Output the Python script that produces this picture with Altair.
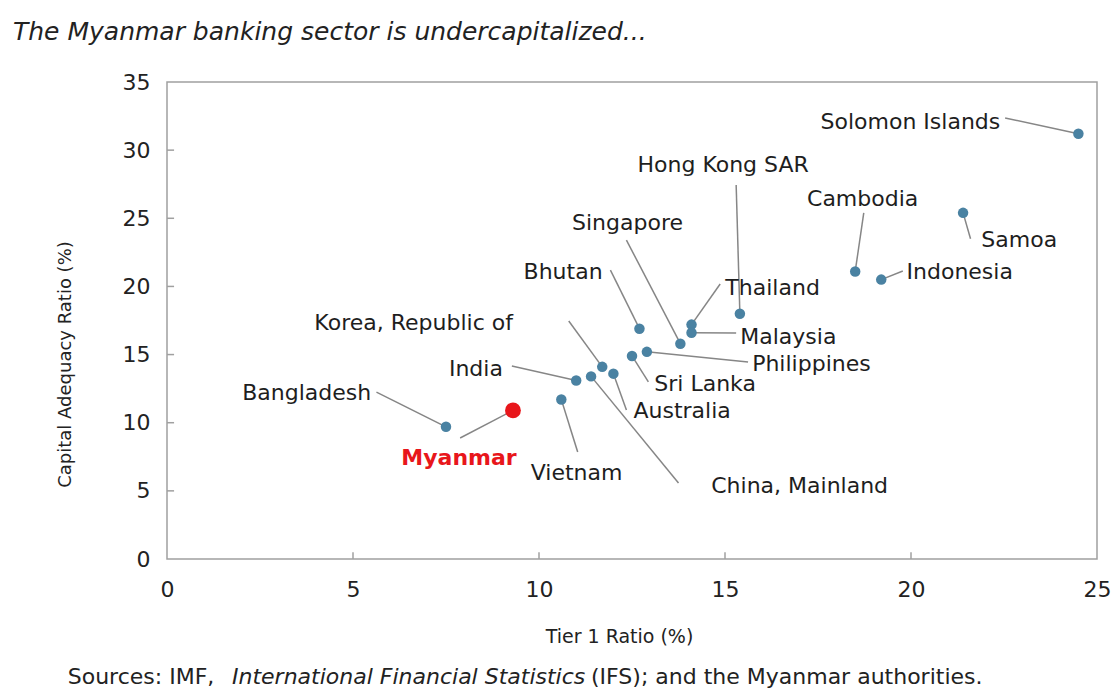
import altair as alt
import pandas as pd

# ---- data ----
countries = ["Solomon Islands", "Samoa", "Cambodia", "Indonesia", "Hong Kong SAR",
             "Thailand", "Malaysia", "Singapore", "Bhutan", "Philippines", "Sri Lanka",
             "Korea, Republic of", "Australia", "China, Mainland", "India", "Vietnam",
             "Myanmar", "Bangladesh"]
tier1 = [24.5, 21.4, 18.5, 19.2, 15.4, 14.1, 14.1, 13.8, 12.7, 12.9, 12.5,
         11.7, 12.0, 11.4, 11.0, 10.6, 9.3, 7.5]
car = [31.2, 25.4, 21.1, 20.5, 18.0, 17.2, 16.6, 15.8, 16.9, 15.2, 14.9,
       14.1, 13.6, 13.4, 13.1, 11.7, 10.9, 9.7]

# ---- annotation layout (data units) ----
label_x = [22.40, 21.89, 18.70, 19.88, 14.95, 15.01, 15.41, 12.38, 11.71, 15.73, 13.10,
           9.30, 12.54, 14.63, 9.03, 11.01, 7.85, 5.49]
label_y = [32.06, 23.40, 26.41, 21.06, 28.91, 19.88, 16.29, 24.65, 21.06, 14.31, 12.84,
           17.31, 10.86, 5.36, 13.94, 6.31, 7.41, 12.18]
label_align = ["right", "left", "center", "left", "center", "left", "left", "center", "right",
               "left", "left", "right", "left", "left", "right", "center", "center", "right"]
line_x = [22.53, 21.60, 18.73, 19.78, 15.30, 14.87, 15.30, 12.35, 11.92, 15.62, 12.94,
          10.80, 12.35, 13.75, 9.27, 11.04, 7.88, 5.63]
line_y = [32.36, 23.50, 25.39, 21.13, 27.44, 20.18, 16.58, 23.40, 21.20, 14.45, 12.99,
          17.46, 10.93, 5.58, 14.16, 7.85, 8.88, 12.25]

x_ticks = [0, 5, 10, 15, 20, 25]
y_ticks = [0, 5, 10, 15, 20, 25, 30, 35]

title_text = "The Myanmar banking sector is undercapitalized..."
source_1 = "Sources: IMF,"
source_2 = "International Financial Statistics"
source_3 = "(IFS); and the Myanmar authorities."

df = pd.DataFrame({
    "country": countries, "tier1": tier1, "car": car,
    "lx": label_x, "ly": label_y, "align": label_align,
    "sx": line_x, "sy": line_y,
})

FONT = "DejaVu Sans"
W, H = 930, 477
FS = 22

xs = alt.Scale(domain=[0, 25], nice=False, zero=False)
ys = alt.Scale(domain=[0, 35], nice=False, zero=False)

base = alt.Chart(df)

xaxis = alt.Axis(values=x_ticks, ticks=False, domain=False, grid=False, labelPadding=20,
                 labelFontSize=FS, labelFont=FONT, labelColor="#222", labelFlush=False,
                 title="Tier 1 Ratio (%)", titleFontSize=19, titleFont=FONT,
                 titleFontWeight="normal", titleColor="#222", titlePadding=27, titleX=452)
yaxis = alt.Axis(values=y_ticks, ticks=False, domain=False, grid=False, labelPadding=17,
                 labelFontSize=FS, labelFont=FONT, labelColor="#222",
                 title="Capital Adequacy Ratio (%)", titleFontSize=18, titleFont=FONT,
                 titleFontWeight="normal", titleColor="#222", titleX=-102, titleY=282,
                 titleBaseline="middle")

leaders = base.mark_rule(color="#868686", strokeWidth=1.5).encode(
    x=alt.X("sx:Q", scale=xs, axis=xaxis),
    y=alt.Y("sy:Q", scale=ys, axis=yaxis),
    x2="tier1:Q", y2="car:Q",
)

xt = pd.DataFrame({"v": x_ticks[1:-1]})
yt = pd.DataFrame({"v": y_ticks[1:-1]})
xtick_layer = alt.Chart(xt).mark_rule(color="#a0a0a0", strokeWidth=1.5).encode(
    x=alt.X("v:Q", scale=xs), y=alt.datum(0), y2=alt.datum(0.5))
ytick_layer = alt.Chart(yt).mark_rule(color="#a0a0a0", strokeWidth=1.5).encode(
    y=alt.Y("v:Q", scale=ys), x=alt.datum(0), x2=alt.datum(0.19))

is_mm = alt.datum.country == "Myanmar"
points = base.mark_circle(opacity=1).encode(
    x=alt.X("tier1:Q", scale=xs), y=alt.Y("car:Q", scale=ys),
    color=alt.condition(is_mm, alt.value("#e8161b"), alt.value("#4a82a2")),
    size=alt.condition(is_mm, alt.value(250), alt.value(110)),
)

def label_layer(align, cond, color="#1e1e1e", weight="normal"):
    return base.transform_filter(cond).mark_text(
        align=align, baseline="middle", font=FONT, fontSize=FS, color=color, fontWeight=weight
    ).encode(x=alt.X("lx:Q", scale=xs), y=alt.Y("ly:Q", scale=ys), text="country:N")

lab_left = label_layer("left", "datum.align == 'left' && datum.country != 'Myanmar'")
lab_center = label_layer("center", "datum.align == 'center' && datum.country != 'Myanmar'")
lab_right = label_layer("right", "datum.align == 'right' && datum.country != 'Myanmar'")
lab_mm = label_layer("center", "datum.country == 'Myanmar'", color="#e8161b", weight="bold")

one = pd.DataFrame({"t": [title_text], "s1": [source_1], "s2": [source_2], "s3": [source_3]})
title_layer = alt.Chart(one).mark_text(
    align="left", baseline="middle", font=FONT, fontSize=25, fontStyle="italic", color="#222"
).encode(text="t:N", x=alt.value(-154), y=alt.value(-50))
src1 = alt.Chart(one).mark_text(
    align="center", baseline="middle", font=FONT, fontSize=22, color="#222"
).encode(text="s1:N", x=alt.value(-26), y=alt.value(595))
src2 = alt.Chart(one).mark_text(
    align="left", baseline="middle", font=FONT, fontSize=22, fontStyle="italic", color="#222"
).encode(text="s2:N", x=alt.value(65), y=alt.value(595))
src3 = alt.Chart(one).mark_text(
    align="left", baseline="middle", font=FONT, fontSize=22, color="#222"
).encode(text="s3:N", x=alt.value(424), y=alt.value(595))

chart = alt.layer(
    leaders, xtick_layer, ytick_layer, points, lab_left, lab_center, lab_right, lab_mm,
    title_layer, src1, src2, src3
).properties(
    width=W, height=H,
    autosize=alt.AutoSizeParams(type="none"),
    padding={"left": 159, "top": 74, "right": 15, "bottom": 132},
    background="white",
).configure_view(stroke="#a0a0a0", strokeWidth=1.5)

chart.save("out.html", embed_options={"renderer": "svg", "actions": False})
